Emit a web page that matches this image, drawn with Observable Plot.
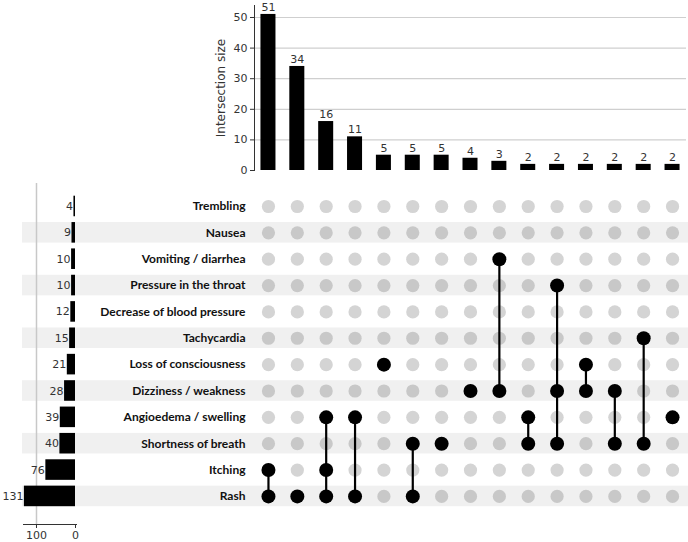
<!DOCTYPE html>
<html><head><meta charset="utf-8">
<script src="https://cdn.jsdelivr.net/npm/d3@7"></script>
<script src="https://cdn.jsdelivr.net/npm/@observablehq/plot@0.6"></script>
<style>
body{margin:0;background:#fff;}
#wrap{position:relative;width:688px;height:542px;overflow:hidden;background:#fff;}
#wrap svg{position:absolute;left:0;top:0;background:transparent !important;}
</style></head><body><div id="wrap"></div>
<script>
const sets = ["Trembling","Nausea","Vomiting / diarrhea","Pressure in the throat","Decrease of blood pressure","Tachycardia","Loss of consciousness","Dizziness / weakness","Angioedema / swelling","Shortness of breath","Itching","Rash"];
const setSizes = [4,9,10,10,12,15,21,28,39,40,76,131];
const intersectionSizes = [51,34,16,11,5,5,5,4,3,2,2,2,2,2,2];
const intersectionMembers = [
  ["Itching","Rash"],
  ["Rash"],
  ["Angioedema / swelling","Itching","Rash"],
  ["Angioedema / swelling","Rash"],
  ["Loss of consciousness"],
  ["Shortness of breath","Rash"],
  ["Shortness of breath"],
  ["Dizziness / weakness"],
  ["Vomiting / diarrhea","Dizziness / weakness"],
  ["Angioedema / swelling","Shortness of breath"],
  ["Pressure in the throat","Dizziness / weakness","Shortness of breath"],
  ["Loss of consciousness","Dizziness / weakness"],
  ["Dizziness / weakness","Shortness of breath"],
  ["Tachycardia","Shortness of breath"],
  ["Angioedema / swelling"]
];
const topTicks = [0,10,20,30,40,50];
const leftTicks = [100,0];

const cols = intersectionSizes.map((_, i) => "c" + (i + 1));
const inter = intersectionSizes.map((s, i) => ({id: cols[i], size: s, members: intersectionMembers[i]}));
const setData = sets.map((s, i) => ({set: s, size: setSizes[i], stripe: i % 2 === 1}));
const cells = [];
for (const c of inter) for (const s of setData) cells.push({id: c.id, set: s.set, member: c.members.includes(s.set), stripe: s.stripe});
const links = inter.filter(c => c.members.length > 1).map(c => {
  const idx = c.members.map(m => sets.indexOf(m));
  return {id: c.id, top: sets[Math.min(...idx)], bottom: sets[Math.max(...idx)]};
});

const xBand = {type: "band", domain: cols, range: [246.6, 693.4], padding: 0.48, round: false, axis: null};
const yBand = {type: "band", domain: sets, range: [189.9, 512.0], padding: 0.22, round: false, axis: null};
const numFont = "DejaVu Sans";

// Matrix (bottom layer)
const matrix = Plot.plot({
  width: 688, height: 542, marginTop: 183, marginBottom: 18, marginLeft: 22, marginRight: 0,
  style: {background: "transparent"},
  x: xBand, y: yBand,
  marks: [
    Plot.cell(setData.filter(d => d.stripe), {y: "set", fill: "#f0f0f0"}),
    Plot.dot(cells.filter(d => !d.member), {x: "id", y: "set", r: 6.6, fill: d => d.stripe ? "#c8c8c8" : "#d4d4d4"}),
    Plot.link(links, {x1: "id", x2: "id", y1: "top", y2: "bottom", stroke: "black", strokeWidth: 2.2}),
    Plot.dot(cells.filter(d => d.member), {x: "id", y: "set", r: 7, fill: "black"}),
    Plot.text(sets, {y: d => d, frameAnchor: "left", dx: 223, textAnchor: "end", fontWeight: "bold", fontFamily: "Lato", fontSize: 12, fill: "#111"})
  ]
});

// Left set-size bars
const left = Plot.plot({
  width: 688, height: 542, marginTop: 183, marginBottom: 18, marginLeft: 23, marginRight: 612,
  style: {background: "transparent", fontFamily: numFont, fontSize: "11px", color: "#333"},
  x: {domain: [0, 131], range: [75, 23.9]},
  y: yBand,
  marks: [
    Plot.ruleX([100], {stroke: "#c8c8c8", strokeWidth: 1.5}),
    Plot.barX(setData, {x: "size", y: "set", fill: "black"}),
    Plot.text(setData, {x: "size", y: "set", text: d => String(d.size), textAnchor: "end", dx: -1, fill: "#333", fontFamily: numFont, fontSize: 11}),
    Plot.frame({anchor: "bottom", stroke: "#333"}),
    Plot.axisX(leftTicks, {anchor: "bottom", tickSize: 4, tickPadding: 3, label: null, fontFamily: numFont, fontSize: 11, fill: "#333"})
  ]
});

// Top intersection-size bars
const topChart = Plot.plot({
  width: 688, height: 174, marginTop: 5, marginBottom: 4, marginLeft: 254, marginRight: 2,
  style: {background: "transparent", fontFamily: numFont, fontSize: "11px", color: "#333", overflow: "visible"},
  x: xBand,
  y: {domain: [0, 53.92], range: [170, 5]},
  marks: [
    Plot.gridY(topTicks.filter(d => d > 0), {stroke: "#cfcfcf", strokeOpacity: 1, strokeWidth: 1.2}),
    Plot.frame({anchor: "left", stroke: "#333"}),
    Plot.axisY(topTicks, {tickSize: 4, tickPadding: 3, label: null, fontFamily: numFont, fontSize: 11, fill: "#333"}),
    Plot.text(["Intersection size"], {frameAnchor: "left", dx: -33, rotate: -90, textAnchor: "middle", text: d => d, fontFamily: numFont, fontSize: 12, fill: "#333"}),
    Plot.barY(inter, {x: "id", y: "size", fill: "black"}),
    Plot.text(inter, {x: "id", y: "size", text: d => String(d.size), dy: -7, fill: "#333", fontFamily: numFont, fontSize: 11})
  ]
});

const wrap = document.getElementById("wrap");
wrap.append(matrix, left, topChart);
</script>
</body></html>
